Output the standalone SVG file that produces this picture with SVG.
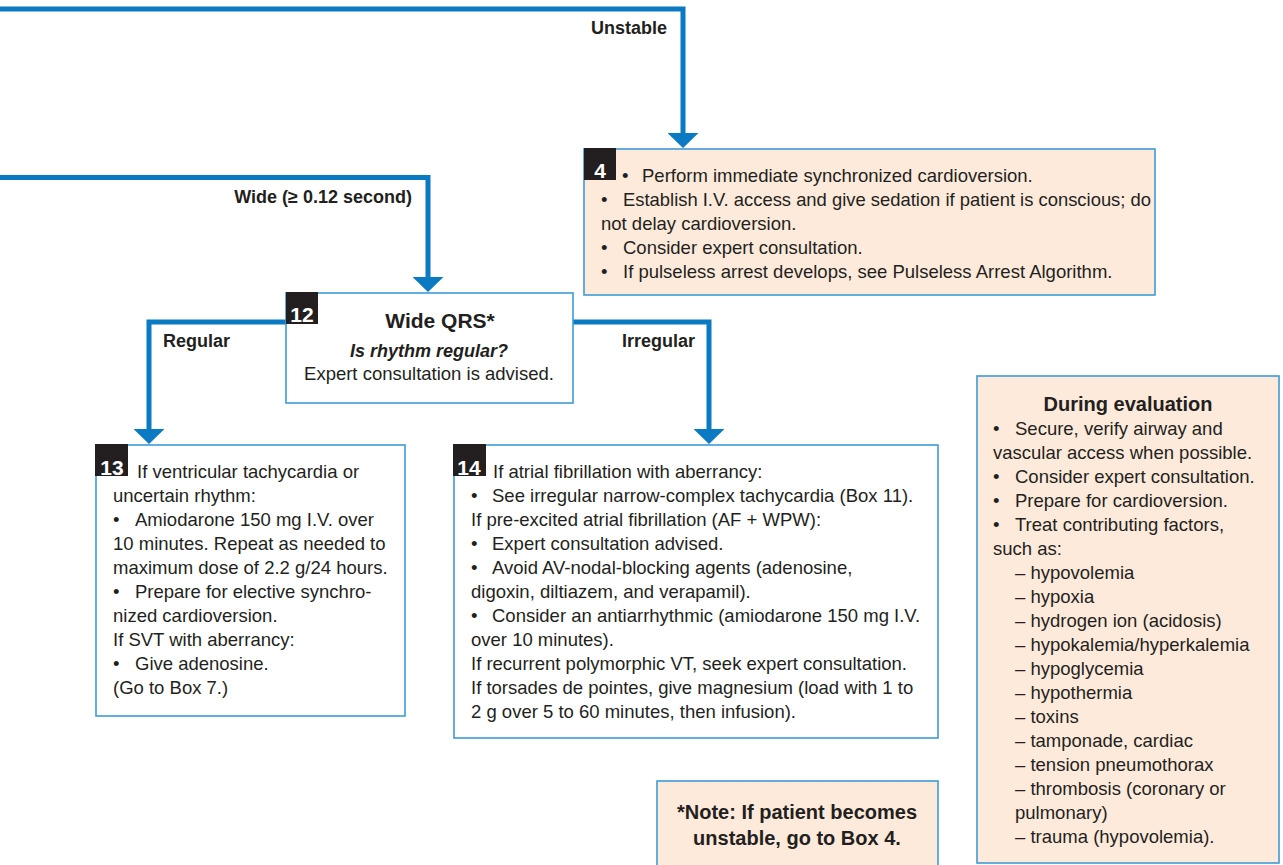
<svg xmlns="http://www.w3.org/2000/svg" width="1283" height="865" viewBox="0 0 1283 865">
<style>
text{font-family:"Liberation Sans",Arial,sans-serif;fill:#231f20}
.t{font-size:18.5px}
.b{font-size:18px;font-weight:bold}
.lbl{font-size:21px;font-weight:bold;fill:#fff}
.box{stroke:#3f9bd7;stroke-width:1.6}
.peach{fill:#fdeadb}
.white{fill:#fff}
.tag{fill:#231f20}
.conn{fill:none;stroke:#0a7bc2;stroke-width:5}
</style>
<defs>
<marker id="ah" viewBox="0 0 15 31" refX="0" refY="15.5" markerWidth="15" markerHeight="31" markerUnits="userSpaceOnUse" orient="auto">
<path d="M0,0 L15,15.5 L0,31 z" fill="#0a7bc2"/>
</marker>
</defs>
<g id="connectors">
<path class="conn" d="M0,9 H683 V133" marker-end="url(#ah)"/>
<path class="conn" d="M0,177.5 H428 V277" marker-end="url(#ah)"/>
<path class="conn" d="M286,322 H149 V429" marker-end="url(#ah)"/>
<path class="conn" d="M573,322 H709 V429" marker-end="url(#ah)"/>
<text class="b" x="667" y="34" text-anchor="end">Unstable</text>
<text class="b" x="412" y="203" text-anchor="end">Wide (≥ 0.12 second)</text>
<text class="b" x="163" y="347">Regular</text>
<text class="b" x="622" y="347">Irregular</text>
</g>
<g id="box4">
<rect class="box peach" x="584" y="149" width="571" height="146"/>
<rect class="tag" x="584" y="148" width="32" height="32"/>
<text class="lbl" x="600" y="178" text-anchor="middle">4</text>
<text class="t" x="622" y="182">•<tspan x="642">Perform immediate synchronized cardioversion.</tspan></text>
<text class="t" x="601" y="206">•<tspan x="623" textLength="528" lengthAdjust="spacingAndGlyphs">Establish I.V. access and give sedation if patient is conscious; do</tspan></text>
<text class="t" x="601" y="230">not delay cardioversion.</text>
<text class="t" x="601" y="254">•<tspan x="623">Consider expert consultation.</tspan></text>
<text class="t" x="601" y="278">•<tspan x="623">If pulseless arrest develops, see Pulseless Arrest Algorithm.</tspan></text>
</g>
<g id="box12">
<rect class="box white" x="286" y="293" width="287" height="110"/>
<rect class="tag" x="286" y="292" width="32" height="32"/>
<text class="lbl" x="302" y="322" text-anchor="middle">12</text>
<text x="440" y="328" text-anchor="middle" style="font-size:21px;font-weight:bold">Wide QRS*</text>
<text x="429" y="357" text-anchor="middle" style="font-size:18px;font-weight:bold;font-style:italic">Is rhythm regular?</text>
<text class="t" x="429" y="380" text-anchor="middle">Expert consultation is advised.</text>
</g>
<g id="box13">
<rect class="box white" x="96" y="445" width="309" height="271"/>
<rect class="tag" x="95" y="444" width="33" height="32"/>
<text class="lbl" x="112" y="475" text-anchor="middle">13</text>
<text class="t" x="137" y="478">If ventricular tachycardia or</text>
<text class="t" x="113" y="502">uncertain rhythm:</text>
<text class="t" x="113" y="526">•<tspan x="135">Amiodarone 150 mg I.V. over</tspan></text>
<text class="t" x="113" y="550">10 minutes. Repeat as needed to</text>
<text class="t" x="113" y="574">maximum dose of 2.2 g/24 hours.</text>
<text class="t" x="113" y="598">•<tspan x="135">Prepare for elective synchro-</tspan></text>
<text class="t" x="113" y="622">nized cardioversion.</text>
<text class="t" x="113" y="646">If SVT with aberrancy:</text>
<text class="t" x="113" y="670">•<tspan x="135">Give adenosine.</tspan></text>
<text class="t" x="113" y="694">(Go to Box 7.)</text>
</g>
<g id="box14">
<rect class="box white" x="454" y="445" width="484" height="293"/>
<rect class="tag" x="453" y="444" width="33" height="32"/>
<text class="lbl" x="469" y="475" text-anchor="middle">14</text>
<text class="t" x="493" y="478">If atrial fibrillation with aberrancy:</text>
<text class="t" x="471" y="502">•<tspan x="492">See irregular narrow-complex tachycardia (Box 11).</tspan></text>
<text class="t" x="471" y="526">If pre-excited atrial fibrillation (AF + WPW):</text>
<text class="t" x="471" y="550">•<tspan x="492">Expert consultation advised.</tspan></text>
<text class="t" x="471" y="574">•<tspan x="492">Avoid AV-nodal-blocking agents (adenosine,</tspan></text>
<text class="t" x="471" y="598">digoxin, diltiazem, and verapamil).</text>
<text class="t" x="471" y="622">•<tspan x="492">Consider an antiarrhythmic (amiodarone 150 mg I.V.</tspan></text>
<text class="t" x="471" y="646">over 10 minutes).</text>
<text class="t" x="471" y="670">If recurrent polymorphic VT, seek expert consultation.</text>
<text class="t" x="471" y="694">If torsades de pointes, give magnesium (load with 1 to</text>
<text class="t" x="471" y="718">2 g over 5 to 60 minutes, then infusion).</text>
</g>
<g id="evaluation">
<rect class="box peach" x="977" y="376" width="302" height="487"/>
<text x="1128" y="411" text-anchor="middle" style="font-size:20px;font-weight:bold">During evaluation</text>
<text class="t" x="993" y="435">•<tspan x="1015">Secure, verify airway and</tspan></text>
<text class="t" x="993" y="459">vascular access when possible.</text>
<text class="t" x="993" y="483">•<tspan x="1015">Consider expert consultation.</tspan></text>
<text class="t" x="993" y="507">•<tspan x="1015">Prepare for cardioversion.</tspan></text>
<text class="t" x="993" y="531">•<tspan x="1015">Treat contributing factors,</tspan></text>
<text class="t" x="993" y="555">such as:</text>
<text class="t" x="1015" y="579">– hypovolemia</text>
<text class="t" x="1015" y="603">– hypoxia</text>
<text class="t" x="1015" y="627">– hydrogen ion (acidosis)</text>
<text class="t" x="1015" y="651">– hypokalemia/hyperkalemia</text>
<text class="t" x="1015" y="675">– hypoglycemia</text>
<text class="t" x="1015" y="699">– hypothermia</text>
<text class="t" x="1015" y="723">– toxins</text>
<text class="t" x="1015" y="747">– tamponade, cardiac</text>
<text class="t" x="1015" y="771">– tension pneumothorax</text>
<text class="t" x="1015" y="795">– thrombosis (coronary or</text>
<text class="t" x="1015" y="819">pulmonary)</text>
<text class="t" x="1015" y="843">– trauma (hypovolemia).</text>
</g>
<g id="note">
<rect class="box peach" x="657" y="781" width="281" height="100"/>
<text x="797" y="819" text-anchor="middle" style="font-size:20px;font-weight:bold">*Note: If patient becomes</text>
<text x="797" y="845" text-anchor="middle" style="font-size:20px;font-weight:bold">unstable, go to Box 4.</text>
</g>
</svg>
